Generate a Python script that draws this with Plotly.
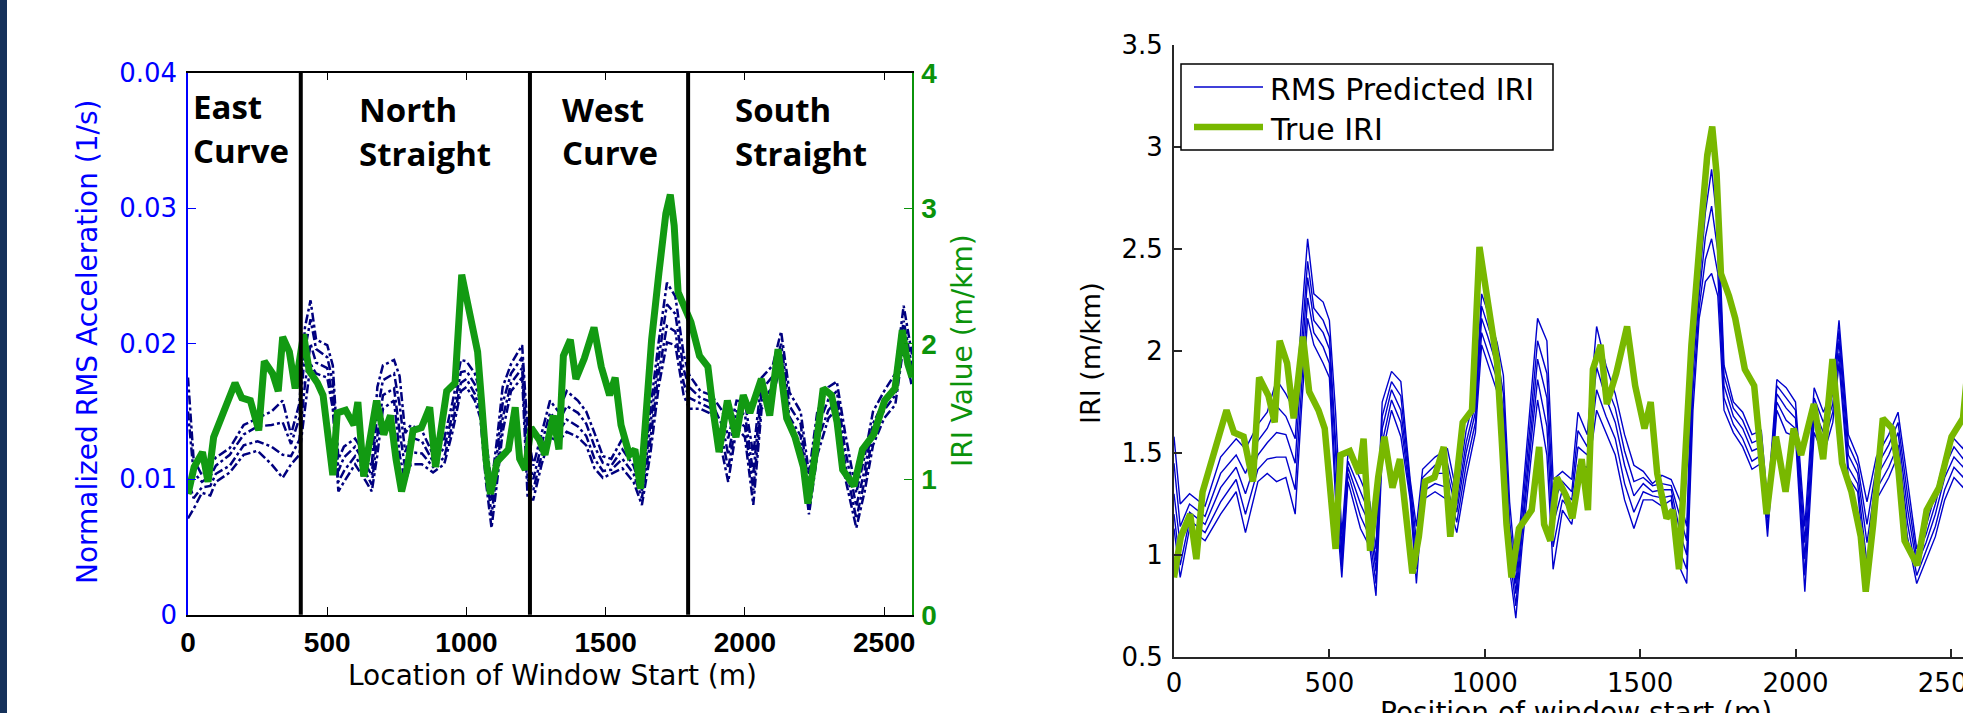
import plotly.graph_objects as go

W, H = 1963, 713

# ---------------- data: left panel (normalized RMS acceleration + true IRI) -------------
X_RMS = [0,20,50,80,100,150,200,250,300,340,370,400,420,440,460,500,520,540,560,600,
         640,660,680,700,740,760,780,800,840,880,920,950,980,1000,1030,1050,1070,1090,1110,1130,
         1160,1200,1220,1240,1270,1300,1330,1360,1400,1430,1460,1490,1520,1560,1600,1630,1660,1690,1720,1750,
         1780,1800,1840,1880,1920,1940,1970,2000,2030,2060,2100,2130,2160,2200,2230,2260,2300,2330,2360,2400,
         2430,2460,2500,2540,2570,2600]

RMS_RUN1 = [0.0175,0.0115,0.0103,0.0110,0.0116,0.0123,0.0140,0.0145,0.0150,0.0158,0.0133,0.0156,0.0212,0.0232,0.0203,0.0199,0.0184,0.0115,0.0124,0.0130,
            0.0116,0.0110,0.0168,0.0184,0.0188,0.0176,0.0134,0.0140,0.0136,0.0118,0.0130,0.0157,0.0188,0.0187,0.0178,0.0164,0.0130,0.0096,0.0130,0.0168,
            0.0185,0.0199,0.0134,0.0110,0.0134,0.0158,0.0150,0.0165,0.0158,0.0150,0.0134,0.0117,0.0115,0.0130,0.0117,0.0097,0.0151,0.0201,0.0245,0.0235,
            0.0192,0.0177,0.0165,0.0162,0.0150,0.0130,0.0158,0.0157,0.0118,0.0175,0.0184,0.0209,0.0164,0.0150,0.0104,0.0150,0.0168,0.0172,0.0134,0.0090,
            0.0117,0.0150,0.0165,0.0178,0.0228,0.0192]
RMS_RUN2 = [0.0150,0.0105,0.0098,0.0102,0.0110,0.0118,0.0133,0.0139,0.0140,0.0142,0.0126,0.0145,0.0195,0.0218,0.0196,0.0190,0.0172,0.0106,0.0116,0.0124,
            0.0110,0.0103,0.0150,0.0173,0.0178,0.0155,0.0120,0.0131,0.0128,0.0113,0.0123,0.0148,0.0179,0.0180,0.0170,0.0158,0.0119,0.0084,0.0119,0.0156,
            0.0178,0.0190,0.0116,0.0100,0.0126,0.0149,0.0142,0.0154,0.0149,0.0141,0.0124,0.0112,0.0110,0.0122,0.0110,0.0091,0.0139,0.0189,0.0229,0.0222,
            0.0181,0.0168,0.0160,0.0157,0.0139,0.0118,0.0150,0.0148,0.0104,0.0166,0.0176,0.0200,0.0154,0.0141,0.0093,0.0138,0.0159,0.0165,0.0122,0.0080,
            0.0107,0.0141,0.0158,0.0170,0.0217,0.0183]
RMS_RUN3 = [0.0100,0.0086,0.0094,0.0095,0.0104,0.0110,0.0125,0.0128,0.0124,0.0118,0.0117,0.0129,0.0170,0.0200,0.0186,0.0182,0.0161,0.0098,0.0106,0.0117,
            0.0104,0.0096,0.0132,0.0162,0.0167,0.0135,0.0108,0.0120,0.0119,0.0109,0.0116,0.0141,0.0171,0.0174,0.0163,0.0151,0.0108,0.0073,0.0108,0.0145,
            0.0171,0.0182,0.0100,0.0092,0.0118,0.0139,0.0135,0.0144,0.0139,0.0132,0.0115,0.0106,0.0107,0.0115,0.0104,0.0086,0.0128,0.0178,0.0213,0.0209,
            0.0171,0.0160,0.0156,0.0152,0.0128,0.0108,0.0143,0.0139,0.0092,0.0158,0.0168,0.0192,0.0146,0.0132,0.0083,0.0128,0.0151,0.0158,0.0111,0.0071,
            0.0099,0.0133,0.0151,0.0162,0.0208,0.0175]
RMS_RUN4 = [0.0071,0.0078,0.0090,0.0088,0.0098,0.0105,0.0118,0.0121,0.0111,0.0101,0.0111,0.0118,0.0152,0.0185,0.0178,0.0175,0.0152,0.0091,0.0098,0.0111,
            0.0098,0.0091,0.0118,0.0152,0.0158,0.0118,0.0098,0.0111,0.0111,0.0105,0.0111,0.0135,0.0165,0.0168,0.0158,0.0145,0.0098,0.0064,0.0098,0.0135,
            0.0165,0.0175,0.0085,0.0085,0.0111,0.0131,0.0128,0.0135,0.0131,0.0125,0.0108,0.0101,0.0104,0.0108,0.0098,0.0081,0.0118,0.0168,0.0201,0.0199,
            0.0162,0.0152,0.0152,0.0148,0.0118,0.0098,0.0138,0.0131,0.0081,0.0152,0.0162,0.0185,0.0138,0.0125,0.0074,0.0118,0.0145,0.0152,0.0101,0.0064,
            0.0091,0.0125,0.0145,0.0155,0.0199,0.0168]
RMS_RUNS = [RMS_RUN1, RMS_RUN2, RMS_RUN3, RMS_RUN4]

# ---------------- true IRI (both panels) ----------------
X_IRI = [0,22,52,72,92,113,143,169,193,224,254,274,304,324,340,364,385,415,435,465,
         485,506,520,536,566,596,610,631,657,677,703,727,747,767,788,808,838,868,889,909,
         929,959,983,1000,1020,1040,1054,1070,1086,1110,1151,1175,1191,1211,1232,1262,1282,1312,1332,1348,
         1373,1393,1423,1458,1484,1514,1534,1555,1585,1605,1625,1645,1665,1691,1716,1732,1746,1760,1786,1806,
         1837,1867,1887,1907,1937,1968,1994,2018,2059,2089,2119,2150,2180,2210,2226,2250,2281,2311,2331,2351,
         2392,2422,2462,2502,2539,2565,2585,2600]
TRUE_IRI = [0.89,1.09,1.20,0.98,1.31,1.42,1.56,1.71,1.60,1.58,1.36,1.87,1.78,1.65,2.05,1.94,1.67,2.07,1.80,1.71,
            1.62,1.27,1.03,1.49,1.51,1.40,1.57,1.02,1.38,1.58,1.33,1.47,1.15,0.91,1.09,1.36,1.38,1.53,1.09,1.40,
            1.65,1.71,2.51,2.34,2.12,1.94,1.58,1.15,0.89,1.13,1.22,1.53,1.15,1.07,1.38,1.29,1.18,1.47,1.22,1.91,
            2.03,1.74,1.89,2.12,1.83,1.62,1.75,1.40,1.18,1.22,0.93,1.49,2.03,2.52,2.96,3.10,2.87,2.38,2.27,2.16,
            1.91,1.83,1.49,1.20,1.58,1.31,1.62,1.49,1.74,1.47,1.96,1.45,1.31,1.09,0.82,1.15,1.67,1.62,1.42,1.07,
            0.95,1.22,1.33,1.58,1.67,2.10,1.85,1.75]

# ---------------- right panel: RMS predicted IRI runs ----------------
X_PRED = [0,20,50,100,150,200,230,270,300,330,360,390,410,430,450,480,500,520,540,560,
          600,630,650,670,700,730,760,780,800,840,880,910,940,970,990,1010,1040,1060,1080,1100,
          1120,1150,1170,1200,1220,1250,1280,1300,1330,1360,1390,1420,1450,1480,1510,1540,1570,1600,1630,1650,
          1670,1690,1710,1730,1750,1770,1800,1830,1860,1890,1910,1940,1970,2000,2030,2060,2090,2120,2140,2170,
          2200,2230,2260,2300,2330,2360,2390,2420,2450,2480,2510,2540,2570,2600]
PRED_RUN1 = [1.58,1.25,1.30,1.24,1.48,1.57,1.52,1.64,1.70,1.86,1.79,1.70,2.15,2.55,2.28,2.24,2.15,1.70,1.10,1.50,
             1.37,1.26,1.03,1.75,1.90,1.85,1.37,1.14,1.42,1.48,1.52,1.30,1.61,1.79,2.28,2.19,2.04,1.88,1.26,0.92,
             1.26,1.82,2.16,2.05,1.37,1.41,1.37,1.70,1.59,2.12,1.93,1.79,1.59,1.44,1.41,1.35,1.39,1.37,1.26,1.14,
             2.06,2.37,2.78,3.05,2.71,1.93,1.75,1.70,1.59,1.61,1.26,1.86,1.82,1.75,1.14,1.82,1.70,1.82,2.15,1.59,
             1.48,1.26,1.48,1.59,1.70,1.37,1.03,1.14,1.30,1.48,1.57,1.52,1.99,1.79]
PRED_RUN2 = [1.45,1.14,1.25,1.19,1.40,1.49,1.40,1.56,1.62,1.73,1.68,1.57,2.03,2.44,2.21,2.15,2.07,1.58,1.04,1.46,
             1.31,1.20,0.97,1.68,1.85,1.78,1.35,1.07,1.38,1.44,1.45,1.25,1.55,1.74,2.22,2.12,1.98,1.79,1.17,0.86,
             1.21,1.73,2.05,1.89,1.25,1.36,1.31,1.61,1.53,2.01,1.84,1.72,1.51,1.36,1.38,1.34,1.35,1.34,1.17,1.07,
             1.97,2.31,2.68,2.89,2.60,1.88,1.72,1.66,1.55,1.57,1.22,1.83,1.77,1.71,1.06,1.77,1.65,1.79,2.10,1.54,
             1.44,1.15,1.43,1.54,1.65,1.30,0.99,1.10,1.25,1.43,1.53,1.47,1.92,1.75]
PRED_RUN3 = [1.30,1.05,1.21,1.15,1.33,1.43,1.30,1.49,1.55,1.60,1.59,1.45,1.93,2.36,2.15,2.09,2.01,1.48,0.99,1.43,
             1.25,1.15,0.92,1.62,1.81,1.71,1.32,1.00,1.35,1.40,1.40,1.21,1.50,1.70,2.16,2.07,1.92,1.71,1.10,0.81,
             1.15,1.66,1.96,1.77,1.15,1.32,1.27,1.53,1.49,1.92,1.77,1.65,1.44,1.29,1.35,1.31,1.32,1.32,1.10,1.00,
             1.89,2.27,2.56,2.71,2.49,1.83,1.68,1.62,1.51,1.53,1.18,1.79,1.72,1.67,0.98,1.71,1.60,1.74,2.05,1.49,
             1.40,1.06,1.38,1.49,1.60,1.23,0.95,1.06,1.20,1.38,1.48,1.43,1.85,1.70]
PRED_RUN4 = [1.20,0.95,1.17,1.11,1.26,1.37,1.20,1.42,1.47,1.48,1.48,1.32,1.81,2.26,2.09,2.02,1.94,1.37,0.94,1.40,
             1.19,1.09,0.86,1.55,1.76,1.65,1.29,0.93,1.31,1.35,1.33,1.16,1.44,1.65,2.09,2.00,1.86,1.62,1.01,0.75,
             1.10,1.57,1.86,1.63,1.04,1.27,1.21,1.44,1.43,1.81,1.68,1.57,1.35,1.21,1.31,1.29,1.28,1.29,1.01,0.93,
             1.80,2.21,2.45,2.55,2.38,1.77,1.64,1.57,1.46,1.49,1.13,1.75,1.66,1.62,0.90,1.66,1.54,1.70,1.99,1.43,
             1.35,0.96,1.32,1.43,1.54,1.16,0.90,1.02,1.14,1.32,1.43,1.38,1.77,1.65]
PRED_RUN5 = [1.13,0.89,1.13,1.07,1.20,1.31,1.11,1.36,1.40,1.36,1.38,1.20,1.71,2.16,2.03,1.94,1.87,1.27,0.89,1.36,
             1.13,1.04,0.80,1.49,1.71,1.58,1.27,0.86,1.27,1.31,1.27,1.11,1.38,1.60,2.03,1.94,1.80,1.53,0.93,0.69,
             1.04,1.49,1.76,1.49,0.93,1.22,1.15,1.36,1.38,1.71,1.60,1.49,1.27,1.13,1.27,1.27,1.24,1.27,0.93,0.86,
             1.71,2.16,2.34,2.38,2.27,1.71,1.60,1.53,1.42,1.45,1.09,1.71,1.60,1.58,0.82,1.60,1.49,1.65,1.94,1.38,
             1.31,0.86,1.27,1.38,1.49,1.09,0.86,0.98,1.09,1.27,1.38,1.33,1.70,1.60]
PRED_RUNS = [PRED_RUN1, PRED_RUN2, PRED_RUN3, PRED_RUN4, PRED_RUN5]

# ---------------- section boundaries and labels ----------------
BOUNDARIES = [405, 1228, 1796]
SECTION_X = [12, 606, 1335, 1956]
SECTION_LINE1 = ["East", "North", "West", "South"]
SECTION_LINE2 = ["Curve", "Straight", "Curve", "Straight"]

LEFT_XTICKS = [0, 500, 1000, 1500, 2000, 2500]
LEFT_YTICKS = [0, 0.01, 0.02, 0.03, 0.04]
LEFT_YTICK_TEXT = ["0", "0.01", "0.02", "0.03", "0.04"]
LEFT_Y2TICKS = [0, 1, 2, 3, 4]
RIGHT_YTICKS = [0.5, 1, 1.5, 2, 2.5, 3, 3.5]
RIGHT_YTICK_TEXT = ["0.5", "1", "1.5", "2", "2.5", "3", "3.5"]

assert all(len(r) == len(X_RMS) for r in RMS_RUNS)
assert all(len(r) == len(X_PRED) for r in PRED_RUNS)
assert len(TRUE_IRI) == len(X_IRI)

# ---------------- colours / fonts ----------------
NAVY = "#00007f"
BLUE = "#0000ff"
GREEN_L = "#129a12"
GREEN_AX = "#0b930b"
GREEN_R = "#78b800"
BLUE_R = "#0000cc"
AXC = "#262626"
SANS = "DejaVu Sans"


def px(v):
    return v / W


def py(v):
    return 1 - v / H


fig = go.Figure()

for run in RMS_RUNS:
    fig.add_trace(go.Scatter(x=X_RMS, y=run, mode="lines", xaxis="x", yaxis="y",
                             line=dict(color=NAVY, width=2.5, dash="dashdot"), showlegend=False))
fig.add_trace(go.Scatter(x=X_IRI, y=TRUE_IRI, mode="lines", xaxis="x", yaxis="y2",
                         line=dict(color=GREEN_L, width=7), showlegend=False))

for run in PRED_RUNS:
    fig.add_trace(go.Scatter(x=X_PRED, y=run, mode="lines", xaxis="x3", yaxis="y3",
                             line=dict(color=BLUE_R, width=1.4), showlegend=False))
fig.add_trace(go.Scatter(x=X_IRI, y=TRUE_IRI, mode="lines", xaxis="x3", yaxis="y3",
                         line=dict(color=GREEN_R, width=6.5), showlegend=False))

shapes = []
# dark slide border at the left edge
shapes.append(dict(type="rect", xref="paper", yref="paper", x0=0, x1=px(7), y0=0, y1=1,
                   fillcolor="#15315a", line=dict(width=0), layer="above"))
for b in BOUNDARIES:
    shapes.append(dict(type="line", xref="x", yref="y domain", x0=b, x1=b, y0=0, y1=1,
                       line=dict(color="black", width=4), layer="above"))
# manual legend of the right panel
shapes.append(dict(type="rect", xref="paper", yref="paper", x0=px(1181), x1=px(1553),
                   y0=py(150), y1=py(64), line=dict(color="black", width=1.5), fillcolor="white",
                   layer="above"))
shapes.append(dict(type="line", xref="paper", yref="paper", x0=px(1194), x1=px(1263),
                   y0=py(87), y1=py(87), line=dict(color=BLUE_R, width=1.6), layer="above"))
shapes.append(dict(type="line", xref="paper", yref="paper", x0=px(1194), x1=px(1263),
                   y0=py(127), y1=py(127), line=dict(color=GREEN_R, width=6.5), layer="above"))

annotations = []
for xs, l1, l2, yc1, yc2 in zip(SECTION_X, SECTION_LINE1, SECTION_LINE2,
                                 [106, 109, 109, 109], [151, 153, 152, 153]):
    for txt, yc in ((l1, yc1), (l2, yc2)):
        annotations.append(dict(text=txt, x=xs, xref="x", y=py(yc), yref="paper",
                                xanchor="left", yanchor="middle", showarrow=False,
                                font=dict(family="Open Sans", size=33, color="black", weight=700)))

annotations += [
    dict(text="Normalized RMS Acceleration (1/s)", x=px(88), y=py(342), xref="paper", yref="paper",
         textangle=-90, showarrow=False, xanchor="center", yanchor="middle",
         font=dict(family=SANS, size=28, color=BLUE)),
    dict(text="IRI Value (m/km)", x=px(963), y=py(351), xref="paper", yref="paper",
         textangle=-90, showarrow=False, xanchor="center", yanchor="middle",
         font=dict(family=SANS, size=28, color=GREEN_AX)),
    dict(text="Location of Window Start (m)", x=px(552), y=py(675), xref="paper", yref="paper",
         showarrow=False, xanchor="center", yanchor="middle",
         font=dict(family=SANS, size=28, color="black")),
    dict(text="IRI (m/km)", x=px(1090), y=py(353), xref="paper", yref="paper",
         textangle=-90, showarrow=False, xanchor="center", yanchor="middle",
         font=dict(family=SANS, size=27, color="black")),
    dict(text="Position of window start (m)", x=px(1576), y=py(694), xref="paper", yref="paper",
         showarrow=False, xanchor="center", yanchor="top",
         font=dict(family=SANS, size=28, color="black")),
    dict(text="RMS Predicted IRI", x=px(1268), y=py(89), xref="paper", yref="paper",
         showarrow=False, xanchor="left", yanchor="middle",
         font=dict(family=SANS, size=30, color="black")),
    dict(text="True IRI", x=px(1268), y=py(129), xref="paper", yref="paper",
         showarrow=False, xanchor="left", yanchor="middle",
         font=dict(family=SANS, size=30, color="black")),
]

fig.update_layout(
    width=W, height=H, autosize=False,
    margin=dict(l=0, r=0, t=0, b=0, pad=0, autoexpand=False),
    paper_bgcolor="white", plot_bgcolor="white",
    showlegend=False,
    shapes=shapes, annotations=annotations,
    xaxis=dict(domain=[px(188), px(912)], range=[0, 2600], anchor="y", automargin=False,
               tickvals=LEFT_XTICKS, ticks="inside", ticklen=8, tickwidth=1.2, tickcolor="black",
               showline=True, linecolor="black", linewidth=1.5, mirror="ticks",
               showgrid=False, zeroline=False, ticklabelstandoff=2,
               tickfont=dict(family="Liberation Sans", size=28, color="black", weight=700)),
    yaxis=dict(domain=[py(614.7), py(72.7)], range=[0, 0.04], anchor="x", automargin=False,
               tickvals=LEFT_YTICKS, ticktext=LEFT_YTICK_TEXT, ticks="inside", ticklen=8,
               tickcolor=BLUE, showline=True, linecolor=BLUE, linewidth=1.5,
               showgrid=False, zeroline=False, ticklabelstandoff=4,
               tickfont=dict(family=SANS, size=26, color=BLUE)),
    yaxis2=dict(overlaying="y", side="right", anchor="x", range=[0, 4], automargin=False,
                tickvals=LEFT_Y2TICKS, ticks="inside", ticklen=8, tickcolor=GREEN_AX,
                showline=True, linecolor=GREEN_AX, linewidth=1.5,
                showgrid=False, zeroline=False, ticklabelstandoff=2,
                tickfont=dict(family="Liberation Sans", size=28, color=GREEN_AX, weight=700)),
    xaxis3=dict(domain=[px(1174), 1.0], range=[0, 2539], anchor="y3", automargin=False,
                tickvals=LEFT_XTICKS, ticks="inside", ticklen=8, tickwidth=1.5, tickcolor=AXC,
                showline=True, linecolor=AXC, linewidth=2, mirror=False,
                showgrid=False, zeroline=False, ticklabelstandoff=2, ticklabeloverflow="allow",
                tickfont=dict(family=SANS, size=26, color="black")),
    yaxis3=dict(domain=[py(657), py(45)], range=[0.5, 3.5], anchor="x3", automargin=False,
                tickvals=RIGHT_YTICKS, ticktext=RIGHT_YTICK_TEXT, ticks="inside", ticklen=8,
                tickwidth=1.5, tickcolor=AXC, showline=True, linecolor=AXC, linewidth=2,
                showgrid=False, zeroline=False, ticklabelstandoff=4,
                tickfont=dict(family=SANS, size=26, color="black")),
)

fig.write_html("out.html", config={"displayModeBar": False},
               post_script="document.body.style.margin='0';document.body.style.padding='0';"
                           "document.body.style.overflow='hidden';")
